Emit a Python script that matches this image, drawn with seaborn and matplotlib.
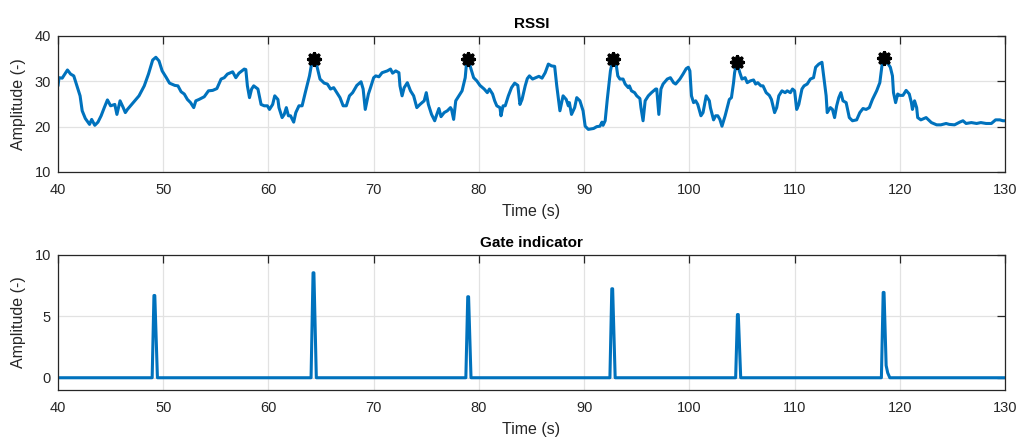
import matplotlib
matplotlib.use("Agg")
import matplotlib.pyplot as plt
import pandas as pd
import seaborn as sns

# RSSI trace (time in s, amplitude)
rssi_time = [
    40.0, 40.1, 40.4, 40.9, 41.2, 41.5, 41.8, 42.1, 42.3, 42.6, 43.0, 43.2, 43.5, 43.8,
    44.1, 44.4, 44.7, 45.0, 45.4, 45.6, 45.9, 46.2, 46.4, 46.6, 47.0, 47.3, 47.7, 48.2,
    48.6, 49.0, 49.3, 49.6, 49.9, 50.3, 50.6, 51.1, 51.4, 51.7, 52.0, 52.3, 52.6, 52.9,
    53.1, 53.4, 53.9, 54.3, 54.7, 55.1, 55.5, 55.8, 56.1, 56.6, 56.9, 57.2, 57.7, 57.85,
    58.0, 58.2, 58.4, 58.6, 59.0, 59.3, 59.6, 59.9, 60.1, 60.4, 60.6, 60.9, 61.0, 61.3,
    61.5, 61.7, 61.9, 62.1, 62.4, 62.6, 62.9, 63.2, 63.5, 63.9, 64.1, 64.3, 64.6, 64.9,
    65.3, 65.6, 65.9, 66.2, 66.5, 66.8, 67.1, 67.4, 67.7, 68.0, 68.4, 68.8, 69.0, 69.2,
    69.5, 69.7, 70.0, 70.2, 70.5, 70.8, 71.3, 71.6, 71.8, 72.1, 72.4, 72.5, 72.7, 72.9,
    73.2, 73.5, 73.8, 74.1, 74.4, 74.8, 75.0, 75.2, 75.5, 75.8, 76.0, 76.2, 76.4, 76.7,
    77.0, 77.3, 77.4, 77.6, 77.8, 78.1, 78.4, 78.7, 78.8, 79.0, 79.2, 79.5, 79.8, 80.1,
    80.5, 80.8, 81.0, 81.3, 81.5, 81.7, 82.0, 82.1, 82.3, 82.5, 82.8, 83.1, 83.4, 83.7,
    83.9, 84.1, 84.4, 84.6, 84.8, 85.1, 85.4, 85.7, 86.0, 86.3, 86.6, 86.9, 87.2, 87.4,
    87.7, 87.9, 88.0, 88.3, 88.5, 88.6, 88.8, 89.1, 89.3, 89.6, 89.9, 90.1, 90.4, 90.9,
    91.2, 91.5, 91.7, 91.8, 92.0, 92.2, 92.5, 92.75, 93.0, 93.2, 93.4, 93.7, 93.9, 94.2,
    94.3, 94.5, 94.8, 95.0, 95.3, 95.4, 95.6, 95.8, 96.1, 96.4, 96.8, 96.9, 97.1, 97.3,
    97.5, 97.9, 98.2, 98.5, 98.7, 99.1, 99.4, 99.7, 99.9, 100.05, 100.2, 100.4, 100.6,
    100.8, 101.1, 101.3, 101.6, 101.9, 102.0, 102.3, 102.5, 102.7, 102.9, 103.1, 103.4,
    103.6, 103.8, 104.0, 104.2, 104.3, 104.5, 104.8, 105.0, 105.3, 105.5, 105.8, 106.1,
    106.3, 106.5, 106.8, 107.0, 107.3, 107.6, 107.8, 108.1, 108.3, 108.5, 108.8, 109.1,
    109.3, 109.6, 109.8, 110.0, 110.2, 110.4, 110.7, 110.9, 111.2, 111.5, 111.8, 112.0,
    112.3, 112.6, 112.7, 113.0, 113.1, 113.4, 113.6, 113.8, 114.0, 114.2, 114.4, 114.6,
    114.9, 115.2, 115.5, 115.9, 116.2, 116.5, 116.8, 117.1, 117.4, 117.8, 118.1, 118.3,
    118.5, 118.9, 119.1, 119.3, 119.4, 119.6, 119.8, 120.0, 120.3, 120.6, 120.9, 121.1,
    121.2, 121.4, 121.6, 121.7, 122.0, 122.5, 123.0, 123.5, 123.9, 124.4, 124.7, 125.2,
    125.7, 126.0, 126.3, 126.8, 127.3, 127.7, 128.2, 128.7, 129.1, 129.5, 129.8, 130.0,
]
rssi_amp = [
    29.0, 30.8, 30.7, 32.5, 31.6, 31.2, 29.0, 26.8, 23.5, 21.8, 20.5, 21.6, 20.3, 21.0,
    22.4, 24.2, 25.9, 24.6, 24.9, 22.7, 25.7, 24.2, 23.1, 23.8, 24.9, 25.7, 26.8, 29.0,
    31.6, 34.7, 35.3, 34.5, 32.3, 30.8, 29.6, 29.1, 29.0, 27.7, 27.2, 26.0, 25.3, 24.2,
    25.7, 26.0, 26.6, 27.9, 28.0, 28.4, 30.5, 30.8, 31.6, 32.1, 30.8, 31.8, 32.7, 32.6,
    29.0, 26.4, 28.3, 29.0, 28.3, 24.9, 24.6, 24.6, 23.8, 24.9, 26.8, 26.0, 24.2, 22.0,
    22.7, 24.2, 22.4, 22.4, 21.0, 23.1, 24.6, 24.6, 27.5, 31.2, 33.8, 35.0, 33.4, 30.5,
    29.6, 29.4, 28.3, 28.6, 27.5, 26.4, 24.6, 24.6, 26.8, 27.5, 29.1, 29.9, 28.3, 23.8,
    27.2, 28.6, 30.8, 31.2, 31.0, 31.9, 32.3, 32.7, 31.8, 32.3, 31.9, 29.0, 26.8, 28.6,
    29.7, 27.9, 26.8, 24.2, 24.9, 25.7, 27.5, 24.9, 22.7, 21.3, 22.7, 24.0, 22.2, 23.1,
    23.5, 24.2, 23.8, 21.6, 25.7, 26.8, 27.9, 30.8, 33.4, 35.0, 33.1, 30.8, 30.1, 29.1,
    28.3, 27.5, 28.3, 27.2, 25.7, 24.6, 24.2, 22.4, 24.6, 24.6, 26.8, 28.6, 29.6, 29.1,
    24.9, 26.0, 29.0, 30.6, 31.2, 30.5, 30.8, 31.1, 30.7, 31.9, 33.8, 33.4, 33.3, 29.0,
    23.5, 25.7, 26.8, 26.0, 24.6, 25.3, 22.7, 24.2, 26.4, 25.7, 23.5, 20.1, 19.4, 19.6,
    20.0, 20.1, 21.0, 20.3, 21.3, 26.0, 32.3, 35.0, 34.5, 31.2, 30.5, 30.5, 29.4, 28.6,
    29.0, 27.9, 27.5, 26.8, 26.2, 24.2, 21.3, 25.7, 26.8, 27.5, 28.3, 28.3, 22.7, 28.3,
    29.4, 30.5, 30.8, 29.7, 29.4, 30.5, 31.6, 32.8, 33.1, 32.3, 26.8, 25.3, 25.7,
    24.9, 22.4, 23.1, 26.8, 25.7, 24.2, 21.5, 22.4, 22.4, 21.6, 20.1, 22.4,
    24.2, 26.0, 26.4, 29.7, 31.9, 34.2, 31.9, 30.5, 30.8, 29.7, 30.1, 30.3,
    29.4, 29.7, 29.0, 29.0, 27.5, 26.9, 26.0, 23.1, 24.2, 26.8, 27.9, 27.5,
    27.9, 27.5, 28.3, 27.9, 23.8, 24.9, 28.3, 29.0, 29.4, 30.5, 30.8, 33.1,
    33.8, 34.2, 32.3, 26.8, 23.1, 24.2, 23.8, 22.0, 24.6, 26.4, 27.5, 25.7,
    25.3, 22.0, 21.3, 21.5, 23.1, 24.0, 23.8, 24.2, 26.0, 27.9, 29.7, 33.4,
    35.2, 33.8, 33.1, 31.2, 27.5, 25.3, 27.2, 26.9, 26.9, 28.0, 27.2, 25.3,
    23.8, 25.7, 24.2, 22.0, 21.5, 22.0, 20.9, 20.4, 20.4, 20.7, 20.5, 20.4,
    21.0, 21.3, 20.7, 20.9, 20.7, 20.9, 20.7, 20.7, 21.5, 21.5, 21.3, 21.3,
]

# Detected RSSI peaks
peak_time = [64.3, 79.0, 92.75, 104.5, 118.5]
peak_amp = [35.0, 35.0, 35.0, 34.3, 35.2]

# Gate indicator pulses
gate_time = [
    40.0,
    48.95, 49.12, 49.2, 49.45,
    64.05, 64.24, 64.32, 64.55,
    78.76, 78.94, 79.02, 79.25,
    92.45, 92.63, 92.71, 92.95,
    104.4, 104.57, 104.65, 104.88,
    118.25, 118.42, 118.5, 118.7, 118.85, 119.05,
    130.0,
]
gate_amp = [
    0.0,
    0.0, 6.7, 6.7, 0.0,
    0.0, 8.55, 8.55, 0.0,
    0.0, 6.6, 6.6, 0.0,
    0.0, 7.25, 7.25, 0.0,
    0.0, 5.15, 5.15, 0.0,
    0.0, 6.95, 6.95, 1.0, 0.4, 0.0,
    0.0,
]

time_ticks = [40, 50, 60, 70, 80, 90, 100, 110, 120, 130]
rssi_ticks = [10, 20, 30, 40]
gate_ticks = [0, 5, 10]

LINE = "#0072BD"
DARK = "#262626"

sns.set_theme(style="whitegrid")
plt.rcParams["font.family"] = ["Liberation Sans", "DejaVu Sans"]
plt.rcParams["axes.unicode_minus"] = False

fig = plt.figure(figsize=(10.19, 4.41), dpi=100)
ax1 = fig.add_axes([0.0569, 0.6100, 0.9294, 0.3084])
ax2 = fig.add_axes([0.0569, 0.1156, 0.9294, 0.3062])

rssi_df = pd.DataFrame({"t": rssi_time, "a": rssi_amp})
peak_df = pd.DataFrame({"t": peak_time, "a": peak_amp})
gate_df = pd.DataFrame({"t": gate_time, "a": gate_amp})

sns.lineplot(data=rssi_df, x="t", y="a", ax=ax1, color=LINE, linewidth=2.2,
             sort=False, estimator=None)
sns.scatterplot(data=peak_df, x="t", y="a", ax=ax1, marker=(8, 2, 0), s=70,
                color="black", linewidth=2.6, zorder=4)
sns.lineplot(data=gate_df, x="t", y="a", ax=ax2, color=LINE, linewidth=2.2,
             sort=False, estimator=None)

panels = [
    (ax1, "RSSI", (10, 40), rssi_ticks),
    (ax2, "Gate indicator", (-1, 10), gate_ticks),
]
for ax, title, ylim, yticks in panels:
    ax.set_xlim(40, 130)
    ax.set_ylim(*ylim)
    ax.set_xticks(time_ticks)
    ax.set_yticks(yticks)
    ax.set_facecolor("white")
    ax.grid(True, color="#e2e2e2", linewidth=0.9)
    ax.set_axisbelow(True)
    for sp in ax.spines.values():
        sp.set_color(DARK)
        sp.set_linewidth(0.9)
        sp.set_visible(True)
    ax.tick_params(direction="in", length=6, width=0.9, top=True, right=True,
                   colors=DARK, labelsize=10.5)
    ax.tick_params(axis="x", pad=8)
    ax.tick_params(axis="y", pad=5)
    ax.set_title(title, fontsize=11, fontweight="bold", color="black", pad=6)
    ax.set_xlabel("Time (s)", fontsize=11.5, color=DARK, labelpad=5)
    ax.set_ylabel("Amplitude (-)", fontsize=11.5, color=DARK, labelpad=6)

fig.savefig("out.png", dpi=100, facecolor="white")
